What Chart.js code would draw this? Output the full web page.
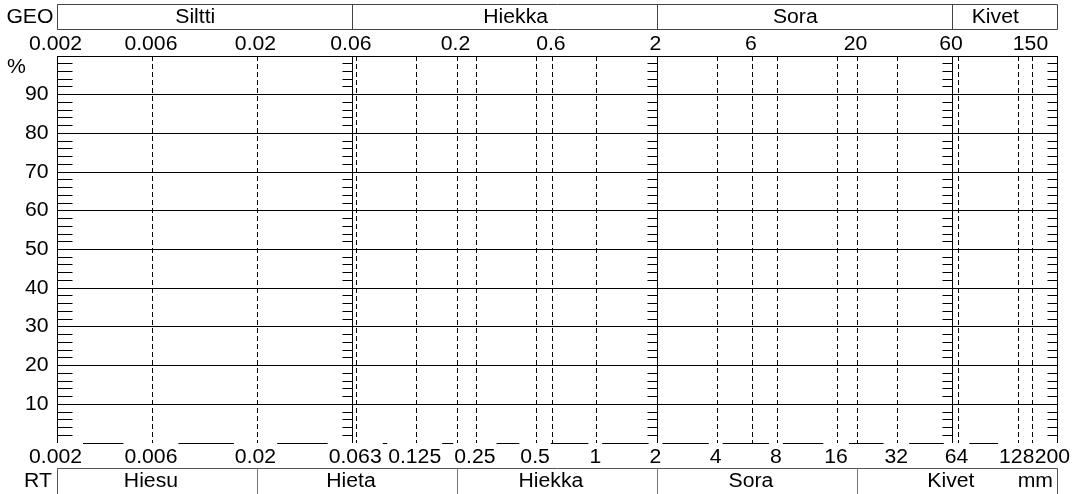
<!DOCTYPE html>
<html>
<head>
<meta charset="utf-8">
<script src="https://cdn.jsdelivr.net/npm/chart.js@4/dist/chart.umd.min.js"></script>
<style>
  html, body { margin: 0; padding: 0; background: #fff; }
  #wrap { width: 1072px; height: 494px; position: relative; }
</style>
</head>
<body>
<div id="wrap"><canvas id="c"></canvas></div>
<script>
// Grain size axis (mm, logarithmic) and passing percentage axis
const sizeMin = 0.002;
const sizeMax = 200;
const solidSizes = [0.002, 0.06, 2, 60, 200];
const dashedSizes = [0.006, 0.02, 0.063, 0.125, 0.2, 0.25, 0.5, 0.6, 1, 4, 6, 8, 16, 20, 32, 64, 128, 150];
const topSizeLabels = [0.002, 0.006, 0.02, 0.06, 0.2, 0.6, 2, 6, 20, 60, 150];
const bottomSizeLabels = [0.002, 0.006, 0.02, 0.063, 0.125, 0.25, 0.5, 1, 2, 4, 8, 16, 32, 64, 128, 200];
const percentMin = 0;
const percentMax = 100;
const percentLabels = [10, 20, 30, 40, 50, 60, 70, 80, 90];
const percentMinorStep = 2;

// GEO soil classes
const geoLimits = [0.002, 0.06, 2, 60, 200];
const geoNames = ['Siltti', 'Hiekka', 'Sora', 'Kivet'];
const geoNameAt = [0.01, 0.4, 10, 100];

// RT soil classes
const rtLimits = [0.002, 0.02, 0.2, 2, 20, 200];
const rtNames = ['Hiesu', 'Hieta', 'Hiekka', 'Sora', 'Kivet'];
const rtNameAt = [0.006, 0.06, 0.6, 6, 60];

const FONT = '20px "Liberation Sans", Arial, Helvetica, sans-serif';
const STRETCH = 1.06;   // slightly widened lettering
const NUDGE = -1.5;     // centred labels sit a touch left

const crisp = v => Math.round(v - 0.5) + 0.5;

function drawText(ctx, s, x, y, align) {
  ctx.save();
  ctx.translate(x, y);
  ctx.scale(STRETCH, 1);
  ctx.textAlign = align;
  ctx.textBaseline = 'middle';
  ctx.fillText(s, 0, 0);
  ctx.restore();
}

function textWidth(ctx, s) {
  return ctx.measureText(s).width * STRETCH;
}

const chartFurniture = {
  id: 'chartFurniture',
  afterDraw(chart) {
    const { ctx, chartArea: a, scales: { x, y } } = chart;
    const W = chart.width;
    const px = v => crisp(x.getPixelForValue(v));
    ctx.save();

    // short % ticks along the solid size lines
    ctx.strokeStyle = '#000';
    ctx.lineWidth = 1;
    ctx.setLineDash([]);
    ctx.beginPath();
    for (let v = percentMin + percentMinorStep; v < percentMax; v += percentMinorStep) {
      const py = crisp(y.getPixelForValue(v));
      solidSizes.forEach((s, i) => {
        const lx = px(s);
        if (i === 0) { ctx.moveTo(lx, py); ctx.lineTo(lx + 15, py); }
        else { ctx.moveTo(lx - 10, py); ctx.lineTo(lx, py); }
      });
    }
    ctx.stroke();

    ctx.font = FONT;
    ctx.fillStyle = '#000';

    // % axis labels
    percentLabels.forEach(v => drawText(ctx, String(v), a.left - 8.5, y.getPixelForValue(v), 'right'));
    drawText(ctx, '%', 7, y.getPixelForValue(97), 'left');

    // GEO band above the plot
    const geoTop = a.top - 52, geoBot = a.top - 27;
    ctx.strokeStyle = '#444';
    ctx.beginPath();
    ctx.rect(px(geoLimits[0]), crisp(geoTop), px(geoLimits[geoLimits.length - 1]) - px(geoLimits[0]), geoBot - geoTop);
    geoLimits.slice(1, -1).forEach(s => { ctx.moveTo(px(s), crisp(geoTop)); ctx.lineTo(px(s), crisp(geoBot)); });
    ctx.stroke();
    const geoMid = (geoTop + geoBot) / 2 + 0.5;
    drawText(ctx, 'GEO', a.left - 3.5, geoMid, 'right');
    geoNames.forEach((n, i) => drawText(ctx, n, x.getPixelForValue(geoNameAt[i]) + NUDGE, geoMid, 'center'));

    // size labels above the plot
    const topY = a.top - 12;
    topSizeLabels.forEach(v => {
      const s = String(v);
      const w = textWidth(ctx, s);
      let cx = x.getPixelForValue(v) + NUDGE;
      cx = Math.min(cx, W - 2 - w / 2);
      drawText(ctx, s, cx, topY, 'center');
    });

    // size labels below the plot, on white plates
    const botY = a.bottom + 14;
    bottomSizeLabels.forEach(v => {
      const s = String(v);
      const w = textWidth(ctx, s);
      let cx = x.getPixelForValue(v) + NUDGE;
      cx = Math.min(cx, W - 2 - w / 2);
      ctx.fillStyle = '#fff';
      ctx.fillRect(cx - w / 2 - 1, a.bottom, w + 2, 22);
      ctx.fillStyle = '#000';
      drawText(ctx, s, cx, botY, 'center');
    });

    // RT band below the plot
    const rtTop = a.bottom + 25, rtBot = chart.height + 2;
    ctx.strokeStyle = '#555';
    ctx.beginPath();
    ctx.moveTo(px(rtLimits[0]), crisp(rtTop)); ctx.lineTo(px(rtLimits[rtLimits.length - 1]), crisp(rtTop));
    ctx.moveTo(px(rtLimits[0]), crisp(rtTop)); ctx.lineTo(px(rtLimits[0]), rtBot);
    ctx.moveTo(px(rtLimits[rtLimits.length - 1]), crisp(rtTop)); ctx.lineTo(px(rtLimits[rtLimits.length - 1]), rtBot);
    ctx.stroke();
    ctx.strokeStyle = '#777';
    ctx.beginPath();
    rtLimits.slice(1, -1).forEach(s => { ctx.moveTo(px(s), crisp(rtTop)); ctx.lineTo(px(s), rtBot); });
    ctx.stroke();
    const rtMid = rtTop + 13.5;
    drawText(ctx, 'RT', a.left - 5, rtMid, 'right');
    rtNames.forEach((n, i) => drawText(ctx, n, x.getPixelForValue(rtNameAt[i]) + NUDGE, rtMid, 'center'));
    drawText(ctx, 'mm', px(rtLimits[rtLimits.length - 1]) - 4.5, rtMid, 'right');

    ctx.restore();
  }
};

const gridSizes = solidSizes.concat(dashedSizes).sort((p, q) => p - q);
const percentGrid = [percentMin].concat(percentLabels, [percentMax]);

new Chart(document.getElementById('c'), {
  type: 'scatter',
  data: { datasets: [] },
  options: {
    responsive: true,
    maintainAspectRatio: false,
    animation: false,
    events: [],
    layout: { padding: { left: 0, right: 15, top: 56, bottom: 51 } },
    plugins: { legend: { display: false }, tooltip: { enabled: false } },
    scales: {
      x: {
        type: 'logarithmic',
        min: sizeMin,
        max: sizeMax,
        afterBuildTicks: s => { s.ticks = gridSizes.map(v => ({ value: v })); },
        afterFit: s => { s.height = 0; },
        ticks: { display: false },
        grid: { drawTicks: false, color: '#000', lineWidth: 1 },
        border: {
          display: false,
          dash: c => (c.tick && !solidSizes.includes(c.tick.value)) ? [5, 3] : []
        }
      },
      y: {
        type: 'linear',
        min: percentMin,
        max: percentMax,
        afterBuildTicks: s => { s.ticks = percentGrid.map(v => ({ value: v })); },
        afterFit: s => { s.width = 57; },
        ticks: { display: false },
        grid: { drawTicks: false, color: '#000', lineWidth: 1 },
        border: { display: false }
      }
    }
  },
  plugins: [chartFurniture]
});
</script>
</body>
</html>
